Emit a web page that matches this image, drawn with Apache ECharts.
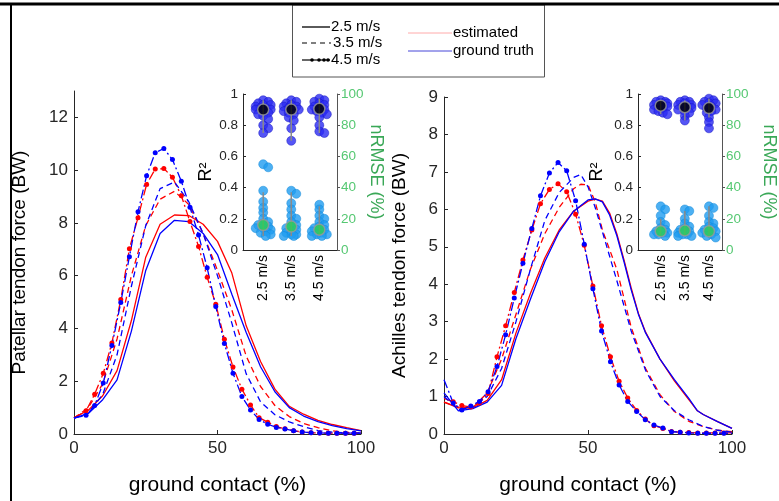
<!DOCTYPE html>
<html>
<head>
<meta charset="utf-8">
<script src="https://cdn.jsdelivr.net/npm/echarts@6/dist/echarts.min.js"></script>
<style>
html,body{margin:0;padding:0;background:#fff;}
#c{width:779px;height:501px;}
</style>
</head>
<body>
<div id="c"></div>
<script>
// ---------------- DATA ----------------
// Patellar tendon force (BW) vs ground contact (%)
const X_PAT45 = [0, 4.2, 7.2, 10.2, 13.2, 16.3, 19.3, 22.3, 25.3, 28.3, 31.3, 34.3, 37.4, 40.4, 43.4, 46.4, 49.4, 52.4, 55.4, 58.5, 61.5, 64.5, 67.5, 70.5, 73.5, 76.5, 79.5, 82.6, 85.6, 88.6, 91.6, 94.6, 97.6, 100];
const PAT45_GT  = [0.6, 0.71, 1.08, 1.93, 3.35, 4.98, 6.72, 8.42, 9.79, 10.66, 10.82, 10.40, 9.58, 8.59, 7.54, 6.30, 4.83, 3.43, 2.30, 1.42, 0.91, 0.55, 0.37, 0.25, 0.19, 0.12, 0.08, 0.05, 0.04, 0.03, 0.03, 0.03, 0.03, 0.03];
const PAT45_EST = [0.6, 0.88, 1.51, 2.30, 3.45, 5.1, 7.02, 8.2, 9.46, 10.04, 10.06, 9.73, 9.03, 8.05, 7.11, 5.94, 4.92, 3.59, 2.54, 1.70, 1.10, 0.62, 0.45, 0.28, 0.2, 0.12, 0.08, 0.05, 0.04, 0.03, 0.03, 0.03, 0.03, 0.03];
const X_PAT = [0, 5, 10, 15, 20, 25, 30, 35, 40, 45, 50, 55, 60, 65, 70, 75, 80, 85, 90, 95, 100];
const PAT35_GT  = [0.6, 0.8, 1.5, 3.0, 5.6, 7.9, 9.3, 9.55, 8.8, 7.6, 6.0, 4.2, 2.28, 1.22, 0.73, 0.46, 0.28, 0.13, 0.07, 0.04, 0.03];
const PAT35_EST = [0.6, 1.0, 1.9, 3.6, 6.0, 7.9, 8.9, 9.2, 8.7, 7.6, 6.2, 4.7, 2.95, 1.8, 1.08, 0.66, 0.40, 0.24, 0.12, 0.06, 0.04];
const PAT25_GT  = [0.6, 0.78, 1.3, 2.05, 3.9, 6.2, 7.6, 8.1, 8.05, 7.6, 6.8, 5.3, 3.85, 2.55, 1.6, 1.0, 0.68, 0.47, 0.32, 0.2, 0.12];
const PAT25_EST = [0.62, 0.9, 1.45, 2.4, 4.3, 6.7, 7.95, 8.3, 8.28, 7.95, 7.3, 6.1, 4.1, 2.75, 1.7, 1.05, 0.75, 0.52, 0.36, 0.24, 0.13];

// Achilles tendon force (BW) vs ground contact (%)
const X_ACH45 = [0, 3.2, 6.2, 9.3, 12.3, 15.3, 18.4, 21.4, 24.4, 27.4, 30.5, 33.5, 36.6, 39.6, 42.6, 45.7, 48.7, 51.7, 54.7, 57.8, 60.8, 63.8, 66.9, 69.9, 72.9, 76.0, 79.0, 82.0, 85.0, 88.1, 91.1, 94.1, 97.2, 100];
const ACH45_GT  = [1.45, 0.83, 0.64, 0.75, 0.87, 1.13, 1.80, 2.65, 3.63, 4.56, 5.49, 6.36, 6.97, 7.25, 7.03, 6.23, 5.07, 3.88, 2.75, 1.93, 1.31, 0.87, 0.6, 0.38, 0.24, 0.16, 0.06, 0.05, 0.03, 0.02, 0.02, 0.02, 0.02, 0.02];
const ACH45_EST = [0.95, 0.86, 0.76, 0.72, 0.83, 1.08, 2.06, 2.89, 3.78, 4.65, 5.45, 6.15, 6.53, 6.68, 6.47, 5.87, 5.04, 3.95, 2.89, 2.06, 1.41, 0.96, 0.63, 0.4, 0.22, 0.15, 0.07, 0.05, 0.04, 0.03, 0.03, 0.03, 0.03, 0.03];
const X_ACH35 = [0, 5, 10, 15, 20, 25, 30, 35, 40, 45, 47.5, 50, 52.5, 55, 60, 65, 70, 75, 80, 85, 90, 95, 100];
const ACH35_GT  = [1.0, 0.65, 0.72, 1.0, 1.75, 3.0, 4.4, 5.7, 6.45, 6.85, 6.93, 6.6, 6.05, 5.4, 4.1, 2.75, 1.7, 1.0, 0.62, 0.38, 0.2, 0.1, 0.05];
const ACH35_EST = [0.85, 0.72, 0.7, 1.1, 2.0, 3.2, 4.4, 5.35, 6.05, 6.55, 6.67, 6.65, 6.2, 5.45, 4.4, 2.85, 1.75, 1.05, 0.6, 0.34, 0.2, 0.1, 0.06];
const X_ACH25 = [0, 5, 10, 15, 20, 25, 30, 35, 40, 45, 50, 52.5, 55, 57.5, 60, 62.5, 65, 67.5, 70, 75, 80, 85, 88, 90, 95, 100];
const ACH25_GT  = [1.1, 0.62, 0.68, 0.85, 1.3, 2.55, 3.6, 4.6, 5.4, 5.95, 6.25, 6.28, 6.2, 5.85, 5.3, 4.6, 3.85, 3.2, 2.7, 2.0, 1.45, 0.95, 0.62, 0.52, 0.33, 0.15];
const ACH25_EST = [0.85, 0.7, 0.7, 0.9, 1.45, 2.7, 3.75, 4.7, 5.45, 5.95, 6.22, 6.27, 6.22, 5.9, 5.35, 4.65, 3.9, 3.22, 2.72, 2.0, 1.42, 0.92, 0.62, 0.52, 0.33, 0.15];

// Insets: per-subject R² and nRMSE (%) for each speed
const SPEEDS = ['2.5 m/s', '3.5 m/s', '4.5 m/s'];
const PAT_R2 = [
  [0.96, 0.95, 0.94, 0.93, 0.93, 0.92, 0.91, 0.91, 0.90, 0.90, 0.89, 0.88, 0.87, 0.86, 0.84, 0.80, 0.78, 0.75],
  [0.96, 0.95, 0.94, 0.93, 0.92, 0.92, 0.91, 0.90, 0.90, 0.89, 0.88, 0.87, 0.85, 0.83, 0.78, 0.70],
  [0.97, 0.96, 0.95, 0.94, 0.93, 0.92, 0.91, 0.90, 0.90, 0.89, 0.88, 0.87, 0.85, 0.80, 0.76, 0.75]
];
const PAT_NRMSE = [
  [55, 53, 38, 31, 27, 24, 20, 18, 17, 16, 15, 14, 14, 13, 12, 11, 10, 9],
  [38, 36, 30, 26, 22, 20, 18, 16, 15, 14, 13, 12, 11, 10, 10, 9, 9],
  [29, 26, 22, 20, 18, 16, 15, 14, 13, 13, 12, 11, 10, 10, 9, 9]
];
const PAT_R2_MED = [0.90, 0.90, 0.905];
const PAT_NRMSE_MED = [16, 15, 13];
const PAT_R2_WHISK = [[0.75, 0.96], [0.70, 0.96], [0.75, 0.97]];
const PAT_NRMSE_WHISK = [[9, 37], [9, 37], [9, 28]];

const ACH_R2 = [
  [0.96, 0.95, 0.95, 0.94, 0.94, 0.93, 0.93, 0.92, 0.92, 0.91, 0.90, 0.89, 0.88, 0.87],
  [0.96, 0.95, 0.95, 0.94, 0.93, 0.93, 0.92, 0.92, 0.91, 0.90, 0.89, 0.88, 0.86, 0.83],
  [0.97, 0.96, 0.95, 0.94, 0.94, 0.93, 0.92, 0.91, 0.90, 0.89, 0.88, 0.85, 0.82, 0.78]
];
const ACH_NRMSE = [
  [28, 26, 22, 18, 16, 14, 13, 12, 12, 11, 11, 10, 10, 9],
  [26, 25, 20, 17, 15, 14, 13, 12, 12, 11, 10, 10, 9, 9],
  [28, 27, 22, 18, 17, 15, 14, 13, 12, 12, 11, 10, 9, 8]
];
const ACH_R2_MED = [0.925, 0.915, 0.91];
const ACH_NRMSE_MED = [12, 12.5, 12];
const ACH_R2_WHISK = [[0.87, 0.96], [0.83, 0.96], [0.85, 0.97]];
const ACH_NRMSE_WHISK = [[9, 20], [9, 25], [8, 28]];

// ---------------- BUILD ----------------
const FONT = 'Liberation Sans, Arial, sans-serif';
const RED = '#ff0000', BLUE = '#0000ff';
const DASH = [6, 4], DASHDOT = [9, 3, 2, 3];

function pts(xs, ys) { return xs.map((x, i) => [x, ys[i]]); }
function mkLine(name, xs, ys, color, type, gi, markers) {
  const last = xs.length - 1;
  return {
    name: name, type: 'line', xAxisIndex: gi, yAxisIndex: gi,
    data: markers ? xs.map((x, i) => ({ value: [x, ys[i]], symbolSize: (i === 0 || i === last) ? 0 : 5 })) : pts(xs, ys),
    showSymbol: !!markers, symbol: 'circle', symbolSize: 5,
    itemStyle: { color: color }, lineStyle: { color: color, width: 1.3, type: type },
    silent: true, z: 3
  };
}

// beeswarm layout: spreads overlapping dots sideways (pixel based, deterministic)
function swarm(vals, cat, pxPerY, pxPerCat) {
  const placed = [], out = [];
  const sorted = vals.slice().sort((a, b) => b - a);
  const cands = [0, 2.5, -2.5, 5, -5, 7.5, -7.5];
  sorted.forEach(v => {
    const py = v * pxPerY;
    let best = 0, bestD = -1;
    for (const cx of cands) {
      let minD = 1e9;
      for (const p of placed) {
        const d = Math.hypot(p[0] - cx, p[1] - py);
        if (d < minD) minD = d;
      }
      if (minD >= 4.5) { best = cx; break; }
      if (minD > bestD) { bestD = minD; best = cx; }
    }
    placed.push([best, py]);
    out.push([cat + best / pxPerCat, v]);
  });
  return out;
}

function insetSeries(xi, yL, yR, r2, nr, r2med, nrmed, r2w, nrw, pxPerCat) {
  const s = [];
  let r2pts = [], nrpts = [];
  for (let c = 0; c < 3; c++) {
    r2pts = r2pts.concat(swarm(r2[c], c + 1, 156, pxPerCat));
    nrpts = nrpts.concat(swarm(nr[c], c + 1, 1.56, pxPerCat));
  }
  s.push({ type: 'scatter', xAxisIndex: xi, yAxisIndex: yL, data: r2pts, symbolSize: 9,
    itemStyle: { color: '#2a2af2', borderColor: '#1818c0', borderWidth: 0.6 }, silent: true, z: 2 });
  s.push({ type: 'scatter', xAxisIndex: xi, yAxisIndex: yR, data: nrpts, symbolSize: 9,
    itemStyle: { color: '#1f9cf0', borderColor: '#1488d8', borderWidth: 0.6 }, silent: true, z: 2 });
  for (let c = 0; c < 3; c++) {
    s.push({ type: 'line', xAxisIndex: xi, yAxisIndex: yL, data: [[c + 1, r2w[c][0]], [c + 1, r2w[c][1]]],
      showSymbol: false, lineStyle: { color: '#8a8a8a', width: 1.5 }, silent: true, z: 3 });
    s.push({ type: 'line', xAxisIndex: xi, yAxisIndex: yR, data: [[c + 1, nrw[c][0]], [c + 1, nrw[c][1]]],
      showSymbol: false, lineStyle: { color: '#8a8a8a', width: 1.5 }, silent: true, z: 3 });
  }
  s.push({ type: 'scatter', xAxisIndex: xi, yAxisIndex: yL, data: r2med.map((v, i) => [i + 1, v]), symbolSize: 11,
    itemStyle: { color: '#000', borderColor: '#9a9a9a', borderWidth: 1.5 }, silent: true, z: 4 });
  s.push({ type: 'scatter', xAxisIndex: xi, yAxisIndex: yR, data: nrmed.map((v, i) => [i + 1, v]), symbolSize: 11,
    itemStyle: { color: '#2fd050', borderColor: '#9a9a9a', borderWidth: 1.5 }, silent: true, z: 4 });
  return s;
}

const AX = '#262626';
function mainX(gi, name) {
  return { type: 'value', gridIndex: gi, min: 0, max: 100, interval: 50,
    name: name, nameLocation: 'middle', nameGap: 41,
    nameTextStyle: { fontFamily: FONT, fontSize: 21, color: '#000' },
    axisLine: { lineStyle: { color: AX, width: 1 } },
    axisTick: { inside: true, length: 4, lineStyle: { color: AX } },
    axisLabel: { fontFamily: FONT, fontSize: 17, color: AX, margin: 6 },
    splitLine: { show: false } };
}
function mainY(gi, max, interval, name, gap, labels) {
  return { type: 'value', gridIndex: gi, min: 0, max: max, interval: interval,
    name: name, nameLocation: 'middle', nameGap: gap,
    nameTextStyle: { fontFamily: FONT, fontSize: 19, color: '#000' },
    axisLine: { show: true, lineStyle: { color: AX, width: 1 } },
    axisTick: { show: true, inside: true, length: 4, lineStyle: { color: AX }, customValues: labels },
    axisLabel: { fontFamily: FONT, fontSize: 17, color: AX, margin: 6, customValues: labels },
    splitLine: { show: false } };
}
function insetX(gi, min, max) {
  return { type: 'value', gridIndex: gi, min: min, max: max,
    axisLine: { lineStyle: { color: AX } },
    axisTick: { show: false },
    axisLabel: { fontFamily: FONT, fontSize: 14, color: '#000', rotate: 90, margin: 5,
      customValues: [1, 2, 3], formatter: v => SPEEDS[Math.round(v) - 1] },
    splitLine: { show: false } };
}
function insetYL(gi, gap) {
  return { type: 'value', gridIndex: gi, min: 0, max: 1, interval: 0.2, position: 'left',
    name: 'R²', nameLocation: 'middle', nameGap: gap,
    nameTextStyle: { fontFamily: FONT, fontSize: 18, color: '#000' },
    axisLine: { show: true, lineStyle: { color: AX } },
    axisTick: { show: true, inside: true, length: 3, lineStyle: { color: AX } },
    axisLabel: { fontFamily: FONT, fontSize: 13.5, color: AX, margin: 5, formatter: v => (Math.round(v * 10) / 10).toString() },
    splitLine: { show: false } };
}
function insetYR(gi, gap) {
  return { type: 'value', gridIndex: gi, min: 0, max: 100, interval: 20, position: 'right',
    name: 'nRMSE (%)', nameLocation: 'middle', nameGap: gap, nameRotate: -90,
    nameTextStyle: { fontFamily: FONT, fontSize: 18, color: '#3aa857' },
    axisLine: { show: true, lineStyle: { color: '#555' } },
    axisTick: { show: true, inside: false, length: 3, lineStyle: { color: '#555' } },
    axisLabel: { fontFamily: FONT, fontSize: 13.5, color: '#55c872', margin: 4 },
    splitLine: { show: false } };
}

const series = [
  mkLine('pat25e', X_PAT, PAT25_EST, RED, 'solid', 0, false),
  mkLine('pat35e', X_PAT, PAT35_EST, RED, DASH, 0, false),
  mkLine('pat45e', X_PAT45, PAT45_EST, RED, DASHDOT, 0, true),
  mkLine('pat25g', X_PAT, PAT25_GT, BLUE, 'solid', 0, false),
  mkLine('pat35g', X_PAT, PAT35_GT, BLUE, DASH, 0, false),
  mkLine('pat45g', X_PAT45, PAT45_GT, BLUE, DASHDOT, 0, true),
  mkLine('ach25e', X_ACH25, ACH25_EST, RED, 'solid', 1, false),
  mkLine('ach35e', X_ACH35, ACH35_EST, RED, DASH, 1, false),
  mkLine('ach45e', X_ACH45, ACH45_EST, RED, DASHDOT, 1, true),
  mkLine('ach25g', X_ACH25, ACH25_GT, BLUE, 'solid', 1, false),
  mkLine('ach35g', X_ACH35, ACH35_GT, BLUE, DASH, 1, false),
  mkLine('ach45g', X_ACH45, ACH45_GT, BLUE, DASHDOT, 1, true)
].concat(
  insetSeries(2, 2, 3, PAT_R2, PAT_NRMSE, PAT_R2_MED, PAT_NRMSE_MED, PAT_R2_WHISK, PAT_NRMSE_WHISK, 28),
  insetSeries(3, 4, 5, ACH_R2, ACH_NRMSE, ACH_R2_MED, ACH_NRMSE_MED, ACH_R2_WHISK, ACH_NRMSE_WHISK, 27)
);

// legend / frame graphics
const LT = { fontFamily: FONT, fontSize: 15, fill: '#000' };
function gText(x, y, t) { return { type: 'text', x: x, y: y, style: Object.assign({ text: t, verticalAlign: 'middle', align: 'left' }, LT), z: 100 }; }
function gLine(x1, y1, x2, y2, stroke, w, dash) {
  return { type: 'line', shape: { x1: x1, y1: y1, x2: x2, y2: y2 }, style: { stroke: stroke, lineWidth: w, lineDash: dash || null }, z: 100 };
}
const graphic = [
  gLine(0, 4, 779, 4, '#000', 3),
  gLine(11, 4, 11, 501, '#000', 2),
  { type: 'rect', shape: { x: 292.5, y: 5, width: 252, height: 72 }, style: { fill: '#fff', stroke: '#555', lineWidth: 1 }, z: 99 },
  gLine(302, 27, 330, 27, '#000', 1.3),
  gText(331, 27, '2.5 m/s'),
  gLine(302, 43, 331, 43, '#000', 1.2, [5, 4]),
  gText(333, 43, '3.5 m/s'),
  gLine(302, 60, 330, 60, '#000', 1.2),
  { type: 'circle', shape: { cx: 312, cy: 60, r: 1.8 }, style: { fill: '#000' }, z: 100 },
  { type: 'circle', shape: { cx: 319, cy: 60, r: 1.8 }, style: { fill: '#000' }, z: 100 },
  { type: 'circle', shape: { cx: 324, cy: 60, r: 1.8 }, style: { fill: '#000' }, z: 100 },
  { type: 'circle', shape: { cx: 328, cy: 60, r: 1.8 }, style: { fill: '#000' }, z: 100 },
  gText(331, 60, '4.5 m/s'),
  gLine(408, 33, 452, 33, '#ffaaaa', 1),
  gText(453, 33, 'estimated'),
  gLine(408, 51, 452, 51, '#4646d8', 1),
  gText(453, 51, 'ground truth')
];

const option = {
  animation: false,
  backgroundColor: '#fff',
  textStyle: { fontFamily: FONT },
  grid: [
    { left: 74, top: 91, width: 287, height: 360 },
    { left: 444, top: 97, width: 288, height: 354 },
    { left: 243, top: 94, width: 94, height: 156 },
    { left: 638, top: 94, width: 94, height: 156 }
  ],
  xAxis: [
    mainX(0, 'ground contact (%)'),
    mainX(1, 'ground contact (%)'),
    insetX(2, 0.28, 3.63),
    insetX(3, 0.06, 3.54)
  ],
  yAxis: [
    mainY(0, 13, 2, 'Patellar tendon force (BW)', 45, [0, 2, 4, 6, 8, 10, 12]),
    mainY(1, 9, 1, 'Achilles tendon force (BW)', 35, [0, 1, 2, 3, 4, 5, 6, 7, 8, 9]),
    insetYL(2, 24),
    insetYR(2, 27),
    insetYL(3, 32),
    insetYR(3, 38)
  ],
  series: series,
  graphic: graphic
};

const chart = echarts.init(document.getElementById('c'), null, { renderer: 'canvas' });
chart.setOption(option);
</script>
</body>
</html>
